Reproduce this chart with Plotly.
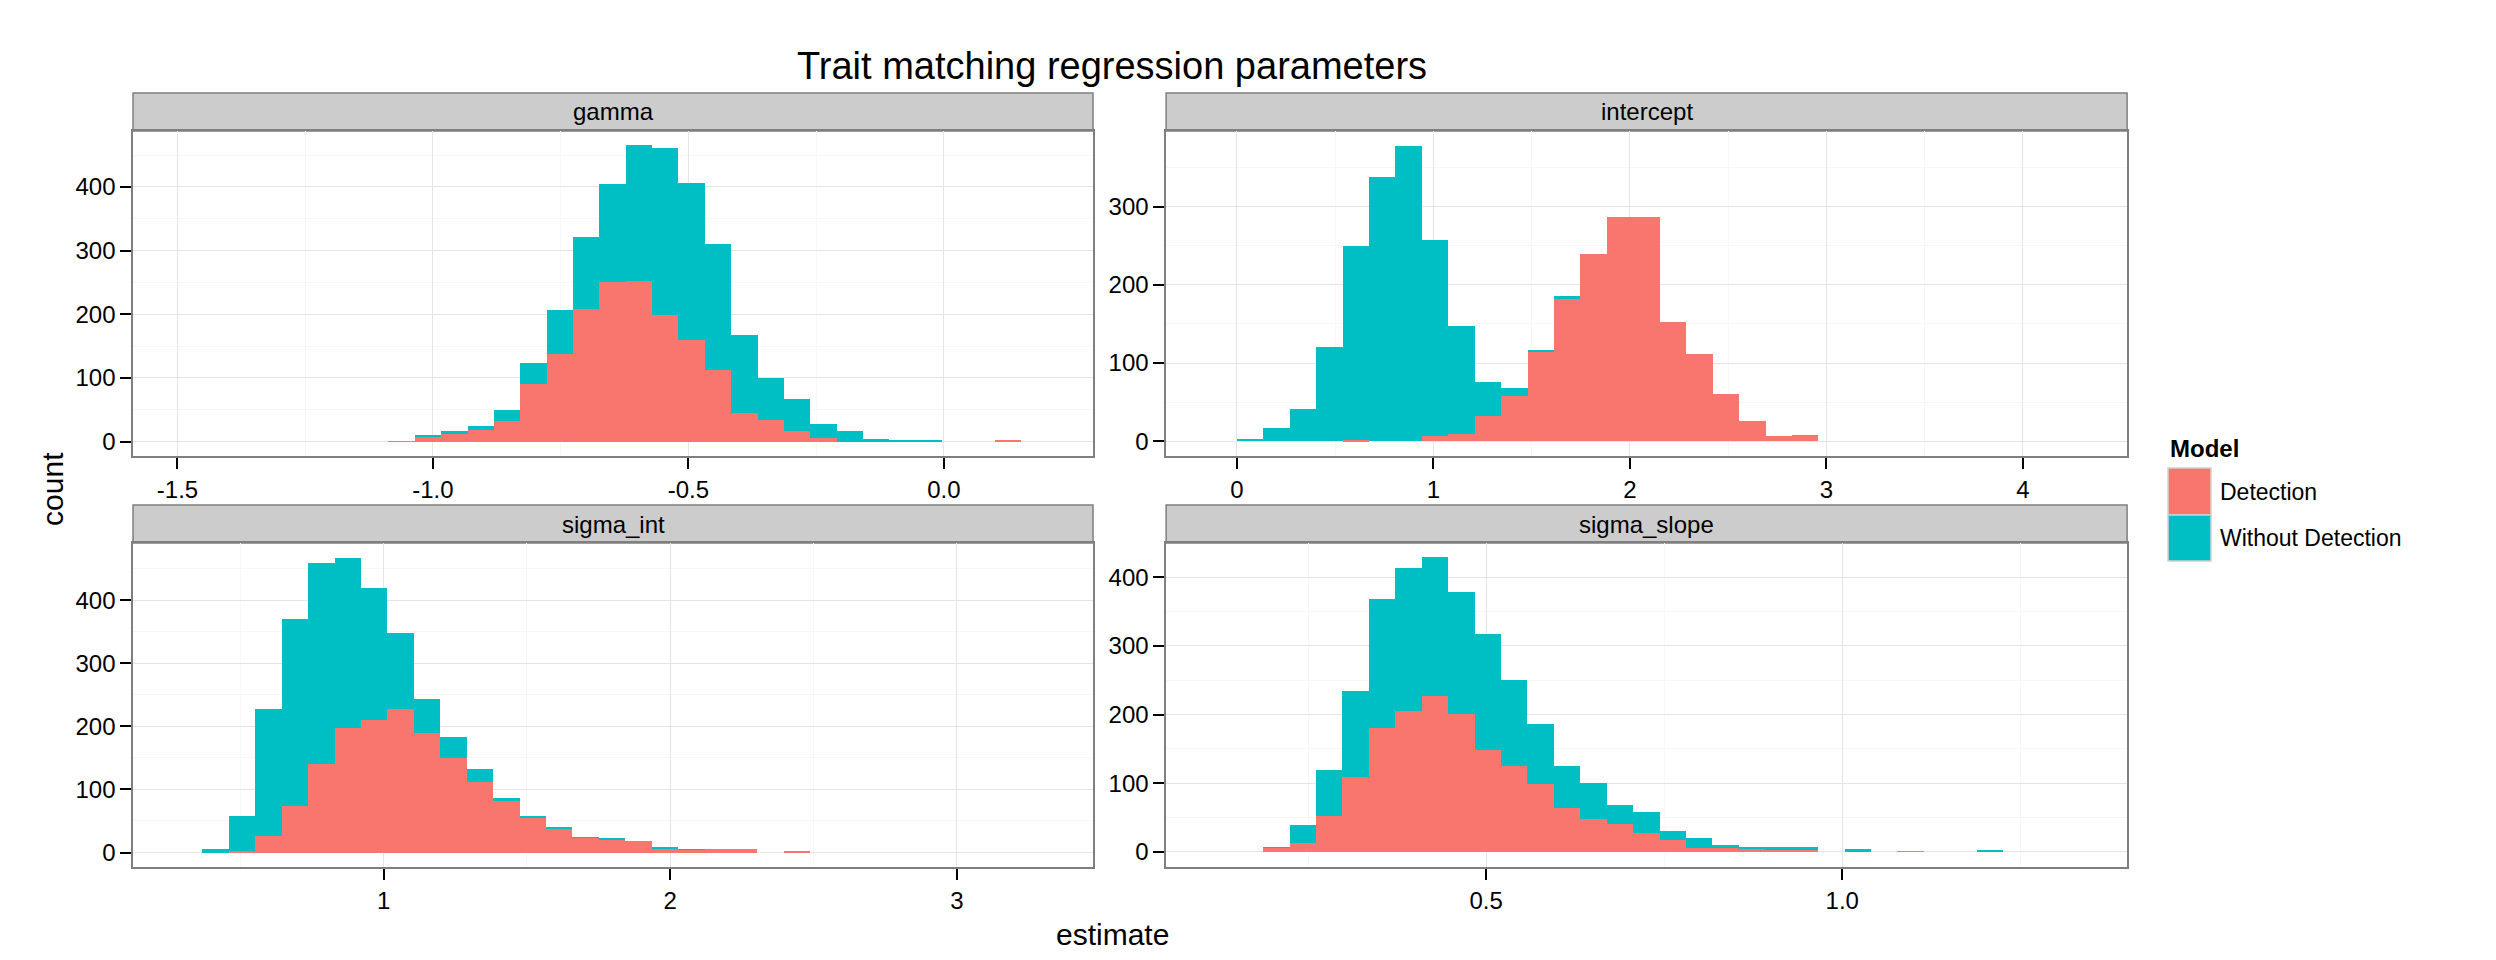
import plotly.graph_objects as go

# ---- data ----
panels = ["gamma", "intercept", "sigma_int", "sigma_slope"]
bin_start = {"gamma": -1.087, "intercept": 0.0, "sigma_int": 0.368, "sigma_slope": 0.187}
bin_width = {"gamma": 0.0516, "intercept": 0.1345, "sigma_int": 0.0922, "sigma_slope": 0.0371}

gamma_det = [1, 8, 13, 19, 33, 90, 138, 209, 250, 253, 199, 160, 113, 45, 34, 16, 5, 0, 0, 0, 0, 0, 0, 1.5]
gamma_tot = [1, 9, 16, 24, 49, 124, 207, 321, 404, 466, 462, 406, 310, 168, 100, 67, 27, 16, 4, 2, 2, 0, 0, 1.5]
intercept_det = [0, 0, 0, 0, 2, 0, 0, 7, 9, 32, 58, 115, 182, 239, 287, 287, 153, 112, 61, 26, 6, 8]
intercept_tot = [3.4, 17.5, 40.6, 121, 250, 338, 378, 257, 148, 76, 68, 117, 186, 239, 287, 287, 153, 112, 61, 26, 6, 8]
sigma_int_det = [0, 2.6, 26, 73.5, 140, 197, 211, 227, 189, 150, 112, 81, 55.5, 36.5, 23, 20, 19, 6, 4, 5, 5, 0, 1.6]
sigma_int_tot = [4.8, 57.7, 227, 370, 459, 468, 419, 348, 243, 184, 132, 86, 57, 40, 24, 22, 19, 8, 5, 5, 5, 0, 1.6]
sigma_slope_det = [5.8, 13, 52, 109, 181, 205, 227, 201, 149, 125, 99, 64, 48, 41, 27, 17.5, 6, 6, 4, 3, 3, 0, 0, 0, 1, 0, 0, 1]
sigma_slope_tot = [6.8, 39, 119, 235, 368, 413, 429, 378, 318, 250, 186, 125, 100, 69, 58, 30, 20, 9.7, 7, 7, 7, 0, 4, 0, 1, 0, 0, 2.5]

detection = {"gamma": gamma_det, "intercept": intercept_det, "sigma_int": sigma_int_det, "sigma_slope": sigma_slope_det}
total = {"gamma": gamma_tot, "intercept": intercept_tot, "sigma_int": sigma_int_tot, "sigma_slope": sigma_slope_tot}

x_ticks = {"gamma": [-1.5, -1.0, -0.5, 0.0], "intercept": [0, 1, 2, 3, 4],
           "sigma_int": [1, 2, 3], "sigma_slope": [0.5, 1.0]}
x_ticklabels = {"gamma": ["-1.5", "-1.0", "-0.5", "0.0"], "intercept": ["0", "1", "2", "3", "4"],
                "sigma_int": ["1", "2", "3"], "sigma_slope": ["0.5", "1.0"]}
x_minor = {"gamma": [-1.25, -0.75, -0.25], "intercept": [-0.5, 0.5, 1.5, 2.5, 3.5],
           "sigma_int": [0.5, 1.5, 2.5], "sigma_slope": [0.25, 0.75, 1.25]}
y_ticks = {"gamma": [0, 100, 200, 300, 400], "intercept": [0, 100, 200, 300],
           "sigma_int": [0, 100, 200, 300, 400], "sigma_slope": [0, 100, 200, 300, 400]}
x_range = {"gamma": [-1.587, 0.292], "intercept": [-0.36, 4.53],
           "sigma_int": [0.126, 3.475], "sigma_slope": [0.0507, 1.4]}
y_range = {"gamma": [-22.6, 488], "intercept": [-19, 397],
           "sigma_int": [-23, 491], "sigma_slope": [-22, 450]}

RED = "#F8766D"
TEAL = "#00BFC4"
FONT = "Liberation Sans, Arial, sans-serif"

xdom = [[0.0501, 0.4347], [0.464, 0.849], [0.0501, 0.4347], [0.464, 0.849]]
ydom = [[0.5333, 0.8719], [0.5333, 0.8719], [0.1052, 0.4427], [0.1052, 0.4427]]
strip_y = [[0.8719, 0.9115], [0.8719, 0.9115], [0.4427, 0.4823], [0.4427, 0.4823]]

fig = go.Figure()
layout = {}
shapes = []
annotations = []
for i, p in enumerate(panels):
    n = i + 1
    xa = "x" if n == 1 else f"x{n}"
    ya = "y" if n == 1 else f"y{n}"
    det = detection[p]
    tot = total[p]
    without = [max(t - d, 0) for t, d in zip(tot, det)]
    centers = [bin_start[p] + (k + 0.5) * bin_width[p] for k in range(len(det))]
    fig.add_trace(go.Bar(x=centers, y=det, width=bin_width[p], marker_color=RED,
                         marker_line_width=0, xaxis=xa, yaxis=ya, showlegend=False,
                         name="Detection"))
    fig.add_trace(go.Bar(x=centers, y=without, width=bin_width[p], marker_color=TEAL,
                         marker_line_width=0, xaxis=xa, yaxis=ya, showlegend=False,
                         name="Without Detection"))
    common = dict(showline=True, mirror=True, linecolor="#7f7f7f", linewidth=1.5,
                  gridcolor="#e5e5e5", gridwidth=1.2, zeroline=False, ticks="outside",
                  ticklen=11, tickwidth=2, tickcolor="#000000",
                  tickfont=dict(family=FONT, size=24, color="#000000"))
    layout["xaxis" if n == 1 else f"xaxis{n}"] = dict(
        domain=xdom[i], range=x_range[p], anchor=ya, tickvals=x_ticks[p],
        ticktext=x_ticklabels[p],
        minor=dict(tickvals=x_minor[p], showgrid=True, gridcolor="#f7f7f7", ticks=""),
        **common)
    layout["yaxis" if n == 1 else f"yaxis{n}"] = dict(
        domain=ydom[i], range=y_range[p], anchor=xa, tickvals=y_ticks[p],
        minor=dict(tickvals=[v + 50 for v in y_ticks[p]], showgrid=True,
                   gridcolor="#f7f7f7", ticks=""),
        **common)
    shapes.append(dict(type="rect", xref="paper", yref="paper",
                       x0=xdom[i][0], x1=xdom[i][1], y0=strip_y[i][0], y1=strip_y[i][1],
                       fillcolor="#cccccc", line=dict(color="#7f7f7f", width=1.5), layer="below"))
    annotations.append(dict(text=p, xref="paper", yref="paper",
                            x=(xdom[i][0] + xdom[i][1]) / 2, y=(strip_y[i][0] + strip_y[i][1]) / 2,
                            showarrow=False, xanchor="center", yanchor="middle",
                            font=dict(family=FONT, size=24, color="#000000")))

# legend (drawn manually, ggplot style)
legend_labels = ["Detection", "Without Detection"]
legend_colors = [RED, TEAL]
key_y = [[0.4719, 0.5208], [0.424, 0.4719]]
annotations.append(dict(text="<b>Model</b>", xref="paper", yref="paper", x=0.8654, y=0.541,
                        xanchor="left", yanchor="middle", showarrow=False,
                        font=dict(family=FONT, size=24, color="#000000")))
for lab, col, ky in zip(legend_labels, legend_colors, key_y):
    shapes.append(dict(type="rect", xref="paper", yref="paper", x0=0.8654, x1=0.8826,
                       y0=ky[0], y1=ky[1], fillcolor=col, line=dict(color="#d0d0d0", width=1.5)))
    annotations.append(dict(text=lab, xref="paper", yref="paper", x=0.8854, y=(ky[0] + ky[1]) / 2,
                            xanchor="left", yanchor="middle", showarrow=False,
                            font=dict(family=FONT, size=23, color="#000000")))

annotations.append(dict(text="Trait matching regression parameters", xref="paper", yref="paper",
                        x=0.4425, y=0.94, xanchor="center", yanchor="middle", showarrow=False,
                        font=dict(family=FONT, size=38, color="#000000")))
annotations.append(dict(text="estimate", xref="paper", yref="paper", x=0.4425, y=0.035,
                        xanchor="center", yanchor="middle", showarrow=False,
                        font=dict(family=FONT, size=30, color="#000000")))
annotations.append(dict(text="count", xref="paper", yref="paper", x=0.018, y=0.499,
                        xanchor="center", yanchor="middle", showarrow=False, textangle=-90,
                        font=dict(family=FONT, size=30, color="#000000")))

fig.update_layout(width=2496, height=960, margin=dict(l=0, r=0, t=0, b=0),
                  paper_bgcolor="white", plot_bgcolor="white", barmode="stack",
                  shapes=shapes, annotations=annotations, showlegend=False, **layout)
fig.write_html("out.html")
